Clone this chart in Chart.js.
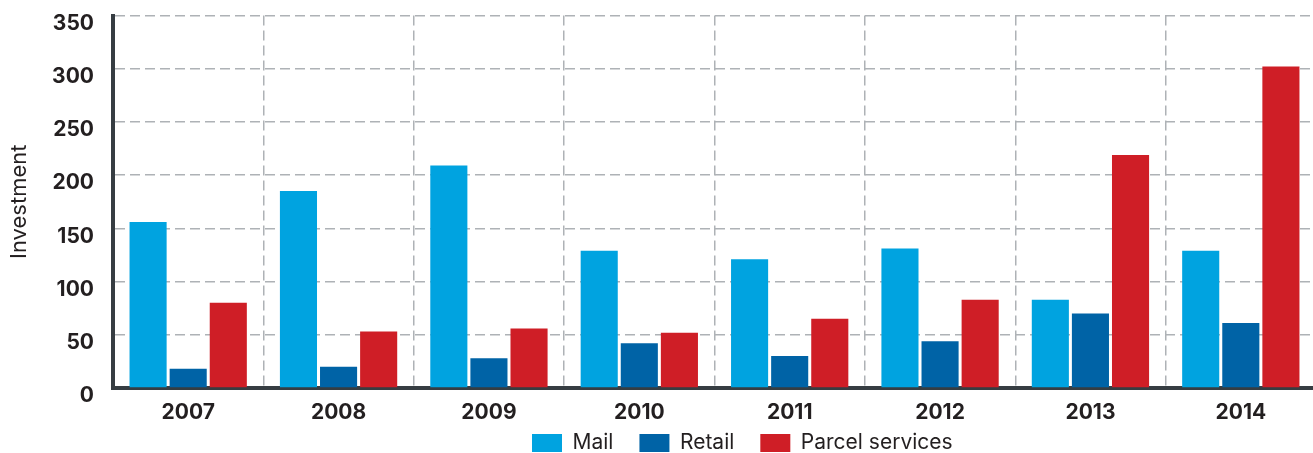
<!DOCTYPE html>
<html>
<head>
<meta charset="utf-8">
<script src="https://cdn.jsdelivr.net/npm/chart.js@4.4.1/dist/chart.umd.min.js"></script>
<style>
  html, body { margin: 0; padding: 0; background: #fff; overflow: hidden; }
  #wrap { width: 1313px; height: 453px; overflow: hidden; position: relative; }
  canvas { display: block; }
</style>
</head>
<body>
<div id="wrap"><canvas id="c" width="1316" height="453" style="width:1316px;height:453px"></canvas></div>
<script>
const categories = ['2007', '2008', '2009', '2010', '2011', '2012', '2013', '2014'];
const mailValues = [156, 185, 209, 129, 121, 131, 83, 129];
const retailValues = [18, 20, 28, 42, 30, 44, 70, 61];
const parcelValues = [80, 53, 56, 52, 65, 83, 219, 302];
const yTicks = [0, 50, 100, 150, 200, 250, 300, 350];

const FONT = 'Inter, "Open Sans", sans-serif';
const CANVAS_H = 453;
const PLOT_BOTTOM = 388;
const LEGEND_START_X = 532;
const LEGEND_BOX_TOP = 432.5;

const legendPlacement = {
  id: 'legendPlacement',
  afterLayout(chart) {
    const lg = chart.legend;
    if (!lg || !lg.lineWidths) return;
    const pad = lg.options.labels.padding;
    const start = (lg.left + pad + lg.right - lg.lineWidths[0]) / 2;
    const dx = LEGEND_START_X - start;
    lg.left += dx; lg.right += dx;
    lg.top = LEGEND_BOX_TOP - pad;
    lg.bottom = CANVAS_H + 20;
    lg.height = lg.bottom - lg.top;
  }
};

new Chart(document.getElementById('c'), {
  type: 'bar',
  data: {
    labels: categories,
    datasets: [
      { label: 'Mail', data: mailValues, backgroundColor: '#00a3e0' },
      { label: 'Retail', data: retailValues, backgroundColor: '#0063a6' },
      { label: 'Parcel services', data: parcelValues, backgroundColor: '#cf1e26' }
    ]
  },
  plugins: [legendPlacement],
  options: {
    responsive: false,
    animation: false,
    devicePixelRatio: 1,
    layout: { padding: { top: 15.5, right: 0, left: 0, bottom: 0 } },
    datasets: { bar: { categoryPercentage: 0.8, barPercentage: 0.925, borderWidth: 0 } },
    plugins: {
      tooltip: { enabled: false },
      legend: {
        position: 'bottom',
        maxHeight: 25,
        labels: {
          boxWidth: 30,
          boxHeight: 18,
          padding: 26,
          color: '#231f20',
          font: { family: FONT, size: 21, weight: '400' }
        }
      }
    },
    scales: {
      x: {
        grid: { color: '#aeb2b6', lineWidth: 1.5, drawTicks: false, offset: true },
        border: { display: true, color: '#363d42', width: 4, dash: [10, 5] },
        ticks: { color: '#231f20', padding: 12, font: { family: FONT, size: 21, weight: '700' } },
        afterFit: (s) => {
          const lgH = s.chart.legend ? s.chart.legend.height : 25;
          s.height = Math.max(0, CANVAS_H - PLOT_BOTTOM - lgH);
        }
      },
      y: {
        min: 0,
        max: 350,
        afterBuildTicks: (s) => { s.ticks = yTicks.map(v => ({ value: v })); },
        grid: { color: '#aeb2b6', lineWidth: 1.5, drawTicks: false },
        border: { display: true, color: '#363d42', width: 4, dash: [10, 5] },
        ticks: { color: '#231f20', padding: 19, labelOffset: 8, font: { family: FONT, size: 21, weight: '700' } },
        title: { display: true, text: 'Investment', color: '#231f20', padding: { top: 6, bottom: 0 }, font: { family: FONT, size: 22, weight: '400' } },
        afterFit: (s) => { s.width = 113; s.paddingTop = 0; s.paddingBottom = 0; }
      }
    }
  }
});
</script>
</body>
</html>
